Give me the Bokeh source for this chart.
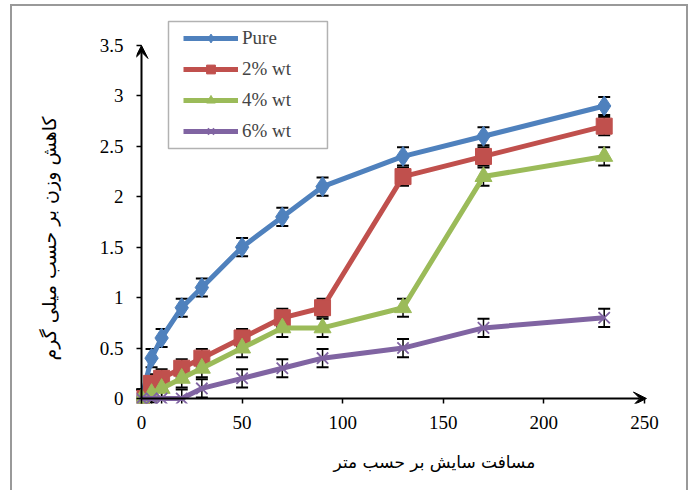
import numpy as np
from bokeh.plotting import figure
from bokeh.models import (Range1d, Whisker, TeeHead, Arrow, VeeHead, Legend, LegendItem,
                          ColumnDataSource, FixedTicker, Title, BoxAnnotation)
from bokeh.embed import file_html
from bokeh.resources import INLINE

distance = [0, 5, 10, 20, 30, 50, 70, 90, 130, 170, 230]
pure = [0, 0.4, 0.6, 0.9, 1.1, 1.5, 1.8, 2.1, 2.4, 2.6, 2.9]
wt2 = [0, 0.15, 0.2, 0.3, 0.4, 0.6, 0.8, 0.9, 2.2, 2.4, 2.7]
wt4 = [0, 0.05, 0.1, 0.2, 0.3, 0.5, 0.7, 0.7, 0.9, 2.2, 2.4]
wt6 = [0, 0, 0, 0, 0.1, 0.2, 0.3, 0.4, 0.5, 0.7, 0.8]
err = [0.09] * 11
names = ["Pure", "2% wt", "4% wt", "6% wt"]
colors = ["#4F81BD", "#C0504D", "#9BBB59", "#8064A2"]
x_ticks = [0, 50, 100, 150, 200, 250]
y_ticks = [0, 0.5, 1, 1.5, 2, 2.5, 3, 3.5]
x_max = 250
y_max = 3.5
x_title = "مسافت سایش بر حسب متر"
y_title = "کاهش وزن بر حسب میلی گرم"

SERIF = "Liberation Serif, Times New Roman, serif"
GRAY = "#999999"

p = figure(width=694, height=497, output_backend="svg", toolbar_location=None,
           x_range=Range1d(-2.485, 256), y_range=Range1d(-0.0496, 3.797),
           min_border_left=136, min_border_right=38, min_border_top=15, min_border_bottom=94)
# outer chart-area frame (left, top, right sides) drawn as CSS background
p.styles = {"background": (
    f"linear-gradient({GRAY},{GRAY}) 10px 4px / 2px 500px no-repeat, "
    f"linear-gradient({GRAY},{GRAY}) 10px 4px / 678px 2px no-repeat, "
    f"linear-gradient({GRAY},{GRAY}) 686px 4px / 2px 500px no-repeat, white")}
p.border_fill_color = None
p.background_fill_color = None
p.outline_line_color = None
p.xgrid.visible = False
p.ygrid.visible = False

for ax, ticks in ((p.xaxis[0], x_ticks), (p.yaxis[0], y_ticks)):
    ax.ticker = FixedTicker(ticks=ticks)
    ax.minor_tick_line_color = None
    ax.major_tick_in = 5
    ax.major_tick_out = 0
    ax.major_tick_line_width = 1.5
    ax.axis_line_color = None
    ax.major_tick_line_color = "black"
    ax.major_label_text_font = SERIF
    ax.major_label_text_font_size = "19px"
    ax.major_label_text_color = "black"
p.xaxis.major_label_standoff = 12
p.yaxis.major_label_standoff = 13

# axis lines with arrow heads at x=0 / y=0
p.add_layout(Arrow(end=VeeHead(size=13, fill_color="black", line_color="black"),
                   x_start=0, y_start=0, x_end=0, y_end=y_max, line_width=2, line_color="black"))
p.add_layout(Arrow(end=VeeHead(size=13, fill_color="black", line_color="black"),
                   x_start=0, y_start=0, x_end=x_max + 1, y_end=0, line_width=2, line_color="black"))

series = [pure, wt2, wt4, wt6]
items = []
for i, ys in enumerate(series):
    src = ColumnDataSource(dict(x=distance, y=ys,
                                lo=[a - e for a, e in zip(ys, err)],
                                hi=[a + e for a, e in zip(ys, err)]))
    w = Whisker(base="x", upper="hi", lower="lo", source=src, dimension="height",
                line_color="black", line_width=1.5,
                upper_head=TeeHead(size=12, line_color="black", line_width=2),
                lower_head=TeeHead(size=12, line_color="black", line_width=2))
    p.add_layout(w)
    r_line = p.line("x", "y", source=src, line_color=colors[i], line_width=5)
    if i == 0:
        r_m = p.scatter("x", "y", source=src, marker="diamond", size=20, fill_color=colors[i], line_color=colors[i])
    elif i == 1:
        r_m = p.scatter("x", "y", source=src, marker="square", size=16, fill_color=colors[i], line_color=colors[i])
    elif i == 2:
        r_m = p.scatter("x", "y", source=src, marker="triangle", size=17, fill_color=colors[i], line_color=colors[i])
    else:
        r_m = p.scatter("x", "y", source=src, marker="x", size=16, line_color=colors[i], line_width=1.8)
    items.append(LegendItem(label=names[i], renderers=[r_line, r_m]))

# legend frame (page px 168..327 x 21..148 converted to data units)
px_x = 2.012
px_y = 100.86
p.add_layout(BoxAnnotation(left=(168 - 141) / px_x, right=(327 - 141) / px_x,
                           top=(398 - 21) / px_y, bottom=(398 - 148) / px_y,
                           fill_color="white", fill_alpha=1.0,
                           line_color="black", line_width=1.5))

legend = Legend(items=items, location=(47, 261), glyph_width=55, glyph_height=22,
                label_text_font=SERIF, label_text_font_size="19px",
                label_standoff=4, spacing=9, padding=5, margin=0,
                border_line_color=None, background_fill_alpha=0.0)
p.add_layout(legend)

p.add_layout(Title(text=x_title, align="left", offset=197, standoff=36,
                   text_font="DejaVu Sans", text_font_size="17px", text_font_style="normal",
                   text_color="black"), "below")
p.add_layout(Title(text=y_title, align="left", offset=43, standoff=72, vertical_align="middle",
                   text_font="DejaVu Sans", text_font_size="19px", text_font_style="normal",
                   text_color="black"), "left")

open("out.html", "w").write(file_html(p, INLINE))
